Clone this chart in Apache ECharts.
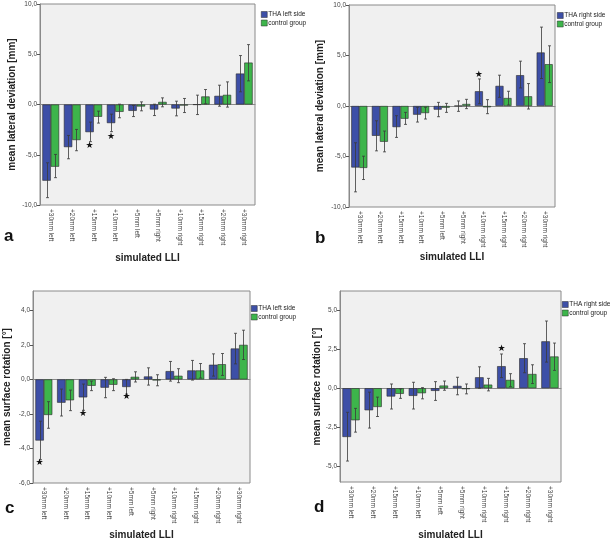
<!DOCTYPE html>
<html>
<head>
<meta charset="utf-8">
<script src="https://cdn.jsdelivr.net/npm/echarts@6/dist/echarts.min.js"></script>
<style>
  html, body { margin: 0; padding: 0; background: #fff; }
  #main { width: 610px; height: 541px; }
</style>
</head>
<body>
<div id="main"></div>
<script>
var categories = ['+30mm left', '+20mm left', '+15mm left', '+10mm left', '+5mm left',
  '+5mm right', '+10mm right', '+15mm right', '+20mm right', '+30mm right'];

// a: lateral deviation, THA left side
var aTha   = [-7.58, -4.24, -2.75, -1.85, -0.63, -0.5, -0.4, -0.02, 0.86, 3.08];
var aThaLo = [-9.27, -5.4, -3.7, -2.7, -1.2, -1.1, -1.13, -1.0, -0.17, 1.26];
var aThaHi = [-5.8, -3.08, -1.75, -0.96, -0.1, 0.03, 0.33, 0.93, 1.92, 4.87];
var aCtl   = [-6.19, -3.54, -1.22, -0.73, -0.2, 0.26, -0.1, 0.8, 0.96, 4.17];
var aCtlLo = [-7.28, -4.6, -1.85, -1.32, -0.63, -0.23, -0.8, 0.07, -0.26, 2.35];
var aCtlHi = [-4.97, -2.48, -0.66, 0.03, 0.26, 0.66, 0.6, 1.49, 2.25, 5.96];
var aStars = [[2, -4.1], [3, -3.2]];

// b: lateral deviation, THA right side
var bTha   = [-6.09, -2.95, -2.09, -0.86, -0.36, 0.02, 1.46, 1.99, 3.05, 5.3];
var bThaLo = [-8.5, -4.44, -3.11, -1.59, -1.06, -0.53, 0.23, 0.86, 1.79, 2.72];
var bThaHi = [-3.64, -1.46, -0.96, -0.13, 0.36, 0.5, 2.68, 3.05, 4.44, 7.81];
var bCtl   = [-6.13, -3.54, -1.26, -0.7, -0.17, 0.2, -0.13, 0.79, 0.96, 4.14];
var bCtlLo = [-7.28, -4.54, -1.82, -1.29, -0.63, -0.26, -0.76, 0.1, -0.3, 2.32];
var bCtlHi = [-4.97, -2.48, -0.63, -0.13, 0.26, 0.66, 0.63, 1.46, 2.22, 5.96];
var bStars = [[6, 3.1]];

// c: surface rotation, THA left side
var cTha   = [-3.54, -1.35, -1.04, -0.48, -0.44, 0.17, 0.48, 0.52, 0.85, 1.79];
var cThaLo = [-4.65, -2.12, -1.79, -1.06, -0.85, -0.33, -0.1, -0.04, 0.19, 0.9];
var cThaHi = [-2.42, -0.56, -0.27, 0.12, 0.0, 0.67, 1.04, 1.1, 1.48, 2.67];
var cCtl   = [-2.06, -1.21, -0.37, -0.31, 0.15, -0.06, 0.21, 0.52, 0.88, 2.0];
var cCtlLo = [-2.83, -1.81, -0.65, -0.65, -0.15, -0.37, -0.19, 0.08, 0.23, 1.15];
var cCtlHi = [-1.29, -0.62, -0.1, 0.04, 0.44, 0.27, 0.62, 0.92, 1.5, 2.85];
var cStars = [[0, -4.85], [2, -2.0], [4, -1.02]];

// d: surface rotation, THA right side
var dTha   = [-3.12, -1.41, -0.53, -0.49, -0.17, 0.15, 0.7, 1.41, 1.92, 3.0];
var dThaLo = [-4.66, -2.55, -1.33, -1.33, -0.78, -0.42, 0.0, 0.68, 0.99, 1.67];
var dThaHi = [-1.54, -0.25, 0.27, 0.38, 0.42, 0.7, 1.37, 2.19, 2.85, 4.3];
var dCtl   = [-2.05, -1.2, -0.36, -0.32, 0.17, -0.06, 0.23, 0.53, 0.91, 2.03];
var dCtlLo = [-2.81, -1.81, -0.65, -0.68, -0.13, -0.36, -0.17, 0.1, 0.3, 1.14];
var dCtlHi = [-1.29, -0.57, -0.04, 0.04, 0.46, 0.27, 0.63, 0.93, 1.5, 2.89];
var dStars = [[7, 2.53]];

var ticksAB = [-10, -5, 0, 5, 10];
var ticksC = [-6, -4, -2, 0, 2, 4];
var ticksD = [-5, -2.5, 0, 2.5, 5];

var BLUE = '#3d4fa7';
var GREEN = '#3db54b';
var FONT = 'Liberation Sans, Arial, sans-serif';
var CAT_GAP = 0.22;

var chart = echarts.init(document.getElementById('main'), null, { renderer: 'canvas' });

function fmt(v) {
  return (Math.round(v * 10) / 10).toFixed(1).replace('.', ',');
}

// error bars for one group, shifted to its own bar
function errSeries(idx, lo, hi, side) {
  var data = lo.map(function (v, i) { return [i, v, hi[i]]; });
  return {
    type: 'custom', xAxisIndex: idx, yAxisIndex: idx, z: 5, silent: true,
    data: data,
    encode: { x: 0, y: [1, 2] },
    renderItem: function (params, api) {
      var catW = api.size([1, 0])[0];
      var bw = catW * (1 - CAT_GAP) / 2;
      var p1 = api.coord([api.value(0), api.value(1)]);
      var p2 = api.coord([api.value(0), api.value(2)]);
      var x = Math.round(p1[0] + side * bw / 2) + 0.5;
      var c = 1.5;
      var st = { stroke: '#3a3a3a', lineWidth: 0.8 };
      return {
        type: 'group', children: [
          { type: 'line', shape: { x1: x, y1: p1[1], x2: x, y2: p2[1] }, style: st },
          { type: 'line', shape: { x1: x - c, y1: p1[1], x2: x + c, y2: p1[1] }, style: st },
          { type: 'line', shape: { x1: x - c, y1: p2[1], x2: x + c, y2: p2[1] }, style: st }
        ]
      };
    }
  };
}

function starSeries(idx, stars) {
  return {
    type: 'custom', xAxisIndex: idx, yAxisIndex: idx, z: 6, silent: true,
    data: stars,
    encode: { x: 0, y: 1 },
    renderItem: function (params, api) {
      var catW = api.size([1, 0])[0];
      var bw = catW * (1 - CAT_GAP) / 2;
      var p = api.coord([api.value(0), api.value(1)]);
      return {
        type: 'text',
        style: { text: '★', x: p[0] - bw / 2, y: p[1], align: 'center', verticalAlign: 'middle',
          fill: '#111', font: '9px DejaVu Sans' }
      };
    }
  };
}

function panelSeries(idx, thaName, tha, thaLo, thaHi, ctl, ctlLo, ctlHi, stars) {
  var bar = function (name, data, color) {
    return {
      name: name, type: 'bar', xAxisIndex: idx, yAxisIndex: idx, data: data,
      barGap: '0%', barCategoryGap: (CAT_GAP * 100) + '%',
      itemStyle: { color: color, borderColor: '#2a2a2a', borderWidth: 0.6 },
      emphasis: { disabled: true }
    };
  };
  return [
    bar(thaName, tha, BLUE),
    bar('control group', ctl, GREEN),
    errSeries(idx, thaLo, thaHi, -1),
    errSeries(idx, ctlLo, ctlHi, 1),
    starSeries(idx, stars)
  ];
}

var grids = [
  { left: 40, top: 4, width: 215, height: 201 },
  { left: 349, top: 5, width: 206, height: 202 },
  { left: 33, top: 291, width: 217, height: 192 },
  { left: 340, top: 291, width: 221, height: 192 }
].map(function (g) {
  return Object.assign({ show: true, backgroundColor: '#f0f0f0', borderColor: '#8a8a8a', borderWidth: 1 }, g);
});

function xAxis(idx, gap) {
  return {
    type: 'category', gridIndex: idx, data: categories,
    name: 'simulated LLI', nameLocation: 'middle', nameGap: gap,
    nameTextStyle: { fontFamily: FONT, fontSize: 10, fontWeight: 'bold', color: '#222' },
    axisLine: { lineStyle: { color: '#8a8a8a' } },
    axisTick: { alignWithLabel: true, length: 3, lineStyle: { color: '#555' } },
    axisLabel: { rotate: -90, fontSize: 6.5, fontFamily: FONT, color: '#444', margin: 4, interval: 0 }
  };
}

function yAxis(idx, title, min, max, ticks, gap) {
  return {
    type: 'value', gridIndex: idx, min: min, max: max,
    name: title, nameLocation: 'middle', nameRotate: 90, nameGap: gap,
    nameTextStyle: { fontFamily: FONT, fontSize: 10, fontWeight: 'bold', color: '#222' },
    axisLine: { show: true, lineStyle: { color: '#8a8a8a' } },
    axisTick: { show: true, length: 3, customValues: ticks, lineStyle: { color: '#555' } },
    axisLabel: { customValues: ticks, formatter: fmt, fontSize: 6.5, fontFamily: FONT, color: '#444', margin: 3 },
    splitLine: { show: false }
  };
}

function legend(x, y, thaName) {
  return {
    left: x, top: y, orient: 'vertical', data: [thaName, 'control group'],
    icon: 'rect', itemWidth: 6, itemHeight: 6, itemGap: 1.5, selectedMode: false,
    itemStyle: { borderColor: '#2a2a2a', borderWidth: 0.5 },
    textStyle: { fontFamily: FONT, fontSize: 6.5, color: '#222', padding: [0, 0, 0, -4] },
    padding: 0
  };
}

function letter(x, y, t) {
  return { type: 'text', left: x, top: y,
    style: { text: t, font: 'bold 17px ' + FONT, fill: '#111' } };
}

var option = {
  animation: false,
  grid: grids,
  legend: [
    legend(261, 11, 'THA left side'),
    legend(557, 12, 'THA right side'),
    legend(251, 305, 'THA left side'),
    legend(562, 301, 'THA right side')
  ],
  xAxis: [xAxis(0, 48), xAxis(1, 45), xAxis(2, 47), xAxis(3, 48)],
  yAxis: [
    yAxis(0, 'mean lateral deviation [mm]', -10, 10, ticksAB, 23),
    yAxis(1, 'mean lateral deviation [mm]', -10, 10, ticksAB, 24),
    yAxis(2, 'mean surface rotation [°]', -6, 5.12, ticksC, 21),
    yAxis(3, 'mean surface rotation [°]', -6, 6.22, ticksD, 18)
  ],
  graphic: [
    letter(4, 228, 'a'),
    letter(315, 230, 'b'),
    letter(5, 500, 'c'),
    letter(314, 499, 'd')
  ],
  series: [].concat(
    panelSeries(0, 'THA left side', aTha, aThaLo, aThaHi, aCtl, aCtlLo, aCtlHi, aStars),
    panelSeries(1, 'THA right side', bTha, bThaLo, bThaHi, bCtl, bCtlLo, bCtlHi, bStars),
    panelSeries(2, 'THA left side', cTha, cThaLo, cThaHi, cCtl, cCtlLo, cCtlHi, cStars),
    panelSeries(3, 'THA right side', dTha, dThaLo, dThaHi, dCtl, dCtlLo, dCtlHi, dStars)
  )
};

chart.setOption(option);
</script>
</body>
</html>
